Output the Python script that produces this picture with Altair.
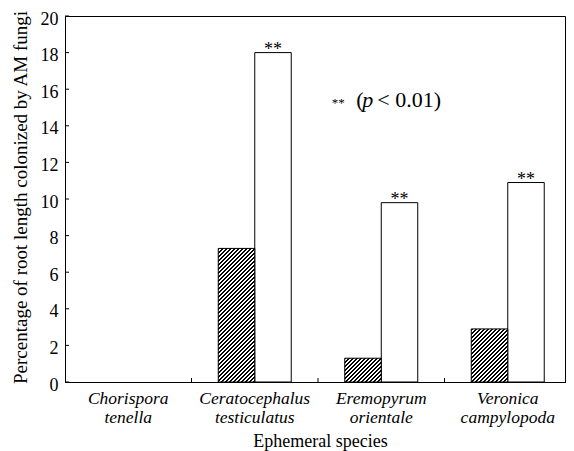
import altair as alt
import pandas as pd

species = ["Chorispora tenella", "Ceratocephalus testiculatus",
           "Eremopyrum orientale", "Veronica campylopoda"]
hatched_vals = [0.0, 7.3, 1.3, 2.9]
white_vals = [0.0, 18.0, 9.8, 10.9]
y_ticks = list(range(0, 21, 2))

W, H = 500, 366
XR = 506  # band range (last band runs slightly past the visible frame)
FONT = "Liberation Serif"

rows = []
for s, a, b in zip(species, hatched_vals, white_vals):
    rows.append({"species": s, "grp": "a", "value": a})
    rows.append({"species": s, "grp": "b", "value": b})
df = pd.DataFrame(rows)

xscale = alt.Scale(domain=species, paddingInner=0, paddingOuter=0, range=[0, XR])
yscale = alt.Scale(domain=[0, 20], nice=False)
PO = 0.733
oscale = alt.Scale(domain=["a", "b"], paddingInner=0, paddingOuter=PO)

band_w = XR / len(species) / (2 + 2 * PO)


def hatch(h, w=band_w, n=64, period=4.0, frac=0.5):
    # stripes "/" at 45 degrees; t = (px + py) / L in pixel units
    L = n * period
    c = L / (w * w + h * h)
    stops = []
    for i in range(n):
        a = i / n
        b = (i + frac) / n
        e = (i + 1) / n
        stops += [{"offset": a, "color": "#000"}, {"offset": b, "color": "#000"},
                  {"offset": b, "color": "#fff"}, {"offset": e, "color": "#fff"}]
    return {"gradient": "linear", "x1": 0, "y1": 0, "x2": c * w, "y2": c * h, "stops": stops}


xaxis = alt.Axis(title="Ephemeral species", labelAngle=0, ticks=False,
                 labelExpr="split(datum.label, ' ')",
                 labelFont=FONT, titleFont=FONT,
                 labelFontStyle="italic", labelFontSize=17.5,
                 labelLineHeight=19, labelPadding=7,
                 titleFontSize=18, titleFontWeight="normal",
                 titleX=255, titleY=64, titleAlign="center", titleBaseline="alphabetic",
                 domainColor="black", labelColor="black", titleColor="black")
yaxis = alt.Axis(title="Percentage of root length colonized by AM fungi",
                 values=y_ticks, ticks=False, grid=False,
                 labelFont=FONT, titleFont=FONT,
                 labelFontSize=18, labelPadding=7, labelOverlap=False, labelOffset=3,
                 titleFontSize=19, titleFontWeight="normal",
                 titleX=-45, titleY=181, titleAngle=270,
                 titleBaseline="middle", titleAlign="center",
                 domainColor="black", labelColor="black",
                 titleColor="black")

xenc = alt.X("species:N", scale=xscale, sort=species, axis=xaxis)
yenc = alt.Y("value:Q", scale=yscale, axis=yaxis)
oenc = alt.XOffset("grp:N", scale=oscale)

base = alt.Chart(df)

white = base.transform_filter((alt.datum.grp == "b") & (alt.datum.value > 0)).mark_bar(
    fill="white", stroke="black", strokeWidth=1).encode(x=xenc, xOffset=oenc, y=yenc)

layers = [white]
for s, v in zip(species, hatched_vals):
    if v <= 0:
        continue
    h = v / 20 * H
    layers.append(
        base.transform_filter((alt.datum.grp == "a") & (alt.datum.species == s))
        .mark_bar(fill=hatch(h), stroke="black", strokeWidth=1)
        .encode(x=xenc, xOffset=oenc, y=yenc)
    )

stars = base.transform_filter((alt.datum.grp == "b") & (alt.datum.value > 0)).mark_text(
    text="**", fontSize=18, baseline="alphabetic", dy=2, color="black", font=FONT
).encode(x=xenc, xOffset=oenc, y=yenc)
layers.append(stars)

# annotation "** (p < 0.01)"
ann_df = pd.DataFrame({"species": ["Eremopyrum orientale"], "value": [15.4]})
ann = alt.Chart(ann_df)
layers += [
    ann.mark_text(text="**", fontSize=13, align="center", baseline="middle", dx=-43, dy=3,
                  color="black", font=FONT).encode(x=xenc, y=yenc),
    ann.mark_text(text="(", fontSize=22, align="left", baseline="middle", dx=-25,
                  color="black", font=FONT).encode(x=xenc, y=yenc),
    ann.mark_text(text="p", fontSize=22, align="left", baseline="middle", dx=-19,
                  fontStyle="italic", color="black", font=FONT).encode(x=xenc, y=yenc),
    ann.mark_text(text="< 0.01)", fontSize=22, align="left", baseline="middle", dx=-4,
                  color="black", font=FONT).encode(x=xenc, y=yenc),
]

# inward ticks
yt_df = pd.DataFrame({"value": y_ticks})
layers.append(alt.Chart(yt_df).mark_rule(color="black").encode(
    y=yenc, x=alt.value(0), x2=alt.value(4)))
xt_df = pd.DataFrame({"species": species[1:]})
layers.append(alt.Chart(xt_df).mark_rule(color="black").encode(
    x=alt.X("species:N", scale=xscale, sort=species, bandPosition=0, axis=xaxis),
    y=alt.value(H), y2=alt.value(H - 4)))

chart = alt.layer(*layers).properties(
    width=W, height=H,
    autosize=alt.AutoSizeParams(type="none"),
    padding={"left": 57, "top": 8, "right": 1, "bottom": 69},
).configure(font=FONT).configure_view(stroke="black", strokeWidth=1)

chart.save("out.html", embed_options={"renderer": "svg", "actions": False})
